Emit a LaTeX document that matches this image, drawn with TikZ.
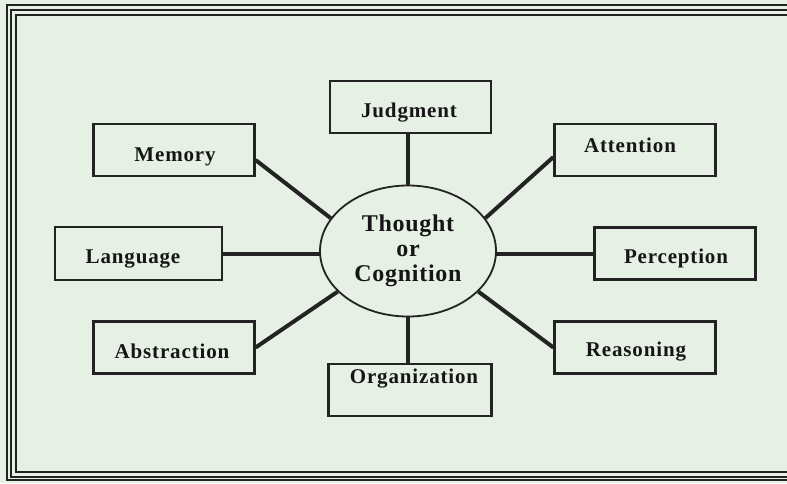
\documentclass[tikz,border=0pt]{standalone}
\usepackage{fontspec}
\setmainfont{Liberation Serif}
\usetikzlibrary{shapes.geometric}
\definecolor{bgc}{RGB}{230,240,228}
\definecolor{ink}{RGB}{35,35,35}
\definecolor{txt}{RGB}{22,22,22}
\tikzset{
  box/.style={draw=ink, line width=2.2pt, rectangle, minimum width=161pt, minimum height=52pt, inner sep=0pt},
  lbl/.style={font=\fontsize{21}{23}\selectfont\bfseries\addfontfeatures{LetterSpace=4}, text=txt, inner sep=0pt},
  conn/.style={draw=ink, line width=4pt},
  frame/.style={draw=ink, line width=2pt}
}
\begin{document}
\begin{tikzpicture}[x=1pt,y=-1pt]
\useasboundingbox (0,0) rectangle (787,483);
\clip (0,0) rectangle (787,483);
\fill[bgc] (0,0) rectangle (787,483);
% frame
\draw[frame] (6.5,4.5) rectangle (800,480);
\draw[frame] (11,9.5) rectangle (800,476.5);
\draw[frame] (15.5,15) rectangle (800,472);
% centre
\node[draw=ink, line width=1.8pt, ellipse, minimum width=176pt, minimum height=131pt, inner sep=0pt] (cog) at (408,251) {};
\node[lbl, font=\fontsize{24}{25}\selectfont\bfseries\addfontfeatures{LetterSpace=3}, align=center] (cogt) at (408,251) {Thought\\or\\Cognition};
% boxes
\node[box] (jud) at (410.5,107) {};
\node[lbl] (judt) at (409,113) {Judgment};
\node[box] (mem) at (174,150) {};
\node[lbl] (memt) at (175,157) {Memory};
\node[box] (att) at (635,150) {};
\node[lbl] (attt) at (630,145) {Attention};
\node[box, minimum width=167pt, minimum height=53pt] (lan) at (138.5,253.5) {};
\node[lbl] (lant) at (133,259) {Language};
\node[box] (per) at (675,253.5) {};
\node[lbl] (pert) at (676,258) {Perception};
\node[box] (abs) at (174,347.5) {};
\node[lbl] (abst) at (172,351) {Abstraction};
\node[box] (rea) at (635,347.5) {};
\node[lbl] (reat) at (636,352) {Reasoning};
\node[box, minimum width=163pt] (org) at (410,390) {};
\node[lbl] (orgt) at (414,379) {Organization};
% connectors
\coordinate (lanend) at (lan.east -| cog.west);
\coordinate (perend) at (per.west -| cog.east);
\draw[conn] (jud.south -| cog.north) -- (cog.north);
\draw[conn] ([yshift=-10pt]mem.east) -- (cog.157);
\draw[conn] ([yshift=-7pt]att.west) -- (cog.23);
\draw[conn] (lan.east) -- ([xshift=1pt]lanend);
\draw[conn] (per.west) -- ([xshift=-1pt]perend);
\draw[conn] (abs.east) -- (cog.210);
\draw[conn] (rea.west) -- (cog.330);
\draw[conn] (org.north -| cog.south) -- (cog.south);
\end{tikzpicture}
\end{document}
